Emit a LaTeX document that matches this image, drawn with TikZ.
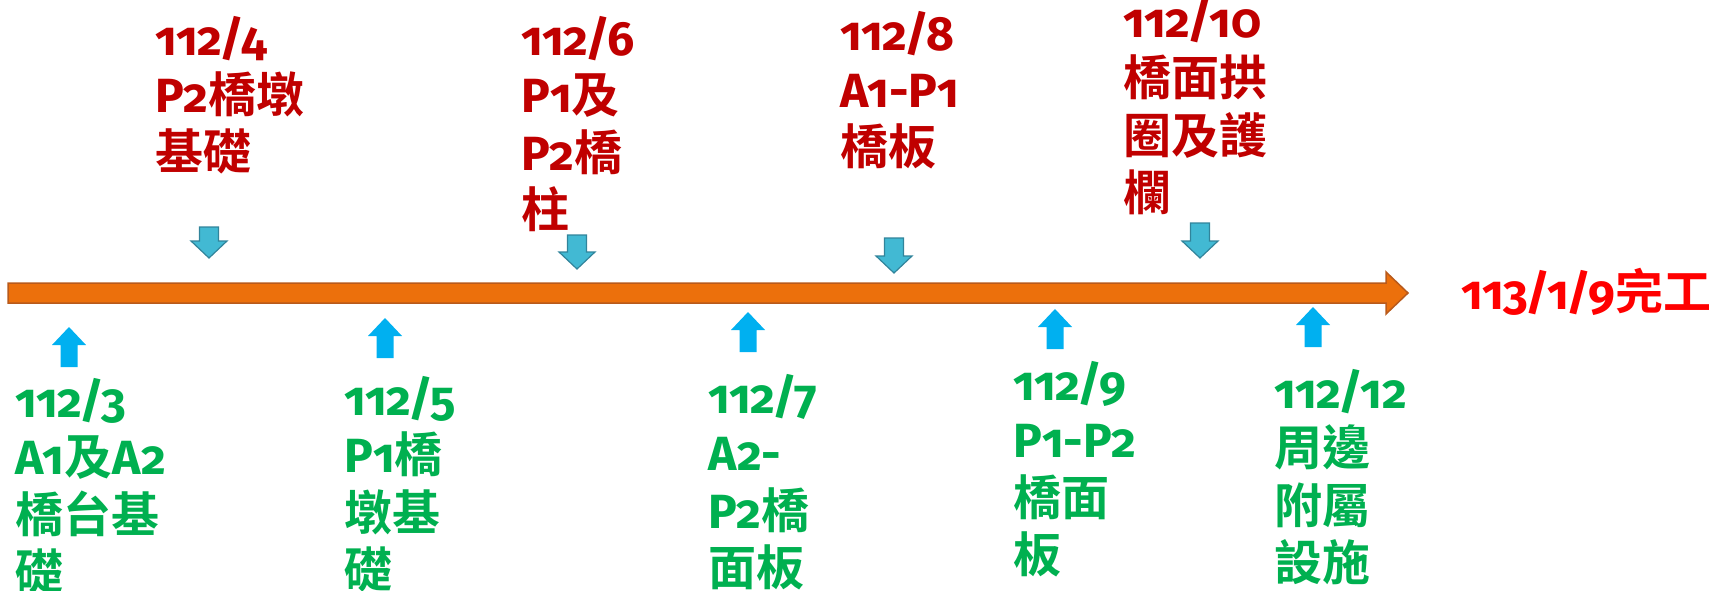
\documentclass[tikz,border=0pt]{standalone}
\usepackage{fontspec}
\setmainfont[Numbers={OldStyle,Proportional}]{Fira Sans}
\newfontfamily\cjkfont[BoldFont={Noto Sans CJK TC Bold}]{Noto Sans CJK TC}
\newcommand\cj[1]{{\cjkfont #1}}
\newcommand\sla{\kern-3pt/\kern-3pt}
\definecolor{topred}{RGB}{192,0,0}
\definecolor{botgreen}{RGB}{0,176,80}
\definecolor{endred}{RGB}{255,0,0}
\definecolor{barfill}{RGB}{236,112,12}
\definecolor{barline}{RGB}{184,90,28}
\definecolor{downfill}{RGB}{66,185,211}
\definecolor{downline}{RGB}{49,132,155}
\definecolor{upfill}{RGB}{0,176,240}
\tikzset{
  lab/.style={anchor=base west, inner sep=0pt, align=left},
  toplab/.style={lab, text=topred},
  botlab/.style={lab, text=botgreen},
  endlab/.style={lab, text=endred},
  downarr/.style={fill=downfill, draw=downline, line width=1.2pt, line join=miter},
  uparr/.style={fill=upfill},
  timebar/.style={fill=barfill, draw=barline, line width=1.5pt, line join=miter}
}
\newcommand\dnarrowshape[3]{%
  \draw[downarr] ({#1-9.5},#2) -- ({#1+9.5},#2) -- ({#1+9.5},{#3-17}) -- ({#1+18},{#3-17})
    -- (#1,#3) -- ({#1-18},{#3-17}) -- ({#1-9.5},{#3-17}) -- cycle;}
\newcommand\uparrowshape[3]{%
  \fill[uparr] (#1,#2) -- ({#1+17},{#2+18}) -- ({#1+8.5},{#2+18}) -- ({#1+8.5},#3)
    -- ({#1-8.5},#3) -- ({#1-8.5},{#2+18}) -- ({#1-17},{#2+18}) -- cycle;}
\begin{document}
\begin{tikzpicture}[x=1pt, y=-1pt, font=\bfseries\fontsize{48}{57.5}\selectfont]
\useasboundingbox (0,0) rectangle (1709,591);
% time line
\draw[timebar] (8,283) -- (1386,283) -- (1386,272) -- (1408,293) -- (1386,314) -- (1386,303) -- (8,303) -- cycle;
% down arrows
\dnarrowshape{209}{227}{258}
\dnarrowshape{577}{235}{269}
\dnarrowshape{894}{238}{273}
\dnarrowshape{1200}{223}{258}
% up arrows
\uparrowshape{69}{327}{367}
\uparrowshape{385}{318}{358}
\uparrowshape{748}{312}{352}
\uparrowshape{1055}{309}{349}
\uparrowshape{1313}{307}{347}
% top labels (anchor = baseline of last line)
\node[toplab] (t1) at (155,170) {112\sla4\\P2\cj{橋墩}\\\cj{基礎}};
\node[toplab] (t2) at (521,227.5) {112\sla6\\P1\cj{及}\\P2\cj{橋}\\\cj{柱}};
\node[toplab] (t3) at (840,165) {112\sla8\\A1-P1\\\cj{橋板}};
\node[toplab] (t4) at (1123,210.5) {112\sla10\\\cj{橋面拱}\\\cj{圈及護}\\\cj{欄}};
% bottom labels
\node[botlab] (b1) at (15,589.5) {112\sla3\\A1\cj{及}A2\\\cj{橋台基}\\\cj{礎}};
\node[botlab] (b2) at (344,587.5) {112\sla5\\P1\cj{橋}\\\cj{墩基}\\\cj{礎}};
\node[botlab] (b3) at (708,585.5) {112\sla7\\A2-\\P2\cj{橋}\\\cj{面板}};
\node[botlab] (b4) at (1013,572.5) {112\sla9\\P1-P2\\\cj{橋面}\\\cj{板}};
\node[botlab] (b5) at (1274,580.5) {112\sla12\\\cj{周邊}\\\cj{附屬}\\\cj{設施}};
% end label
\node[endlab] (fin) at (1461,309) {113\sla1\sla9\cj{完工}};
\end{tikzpicture}
\end{document}
